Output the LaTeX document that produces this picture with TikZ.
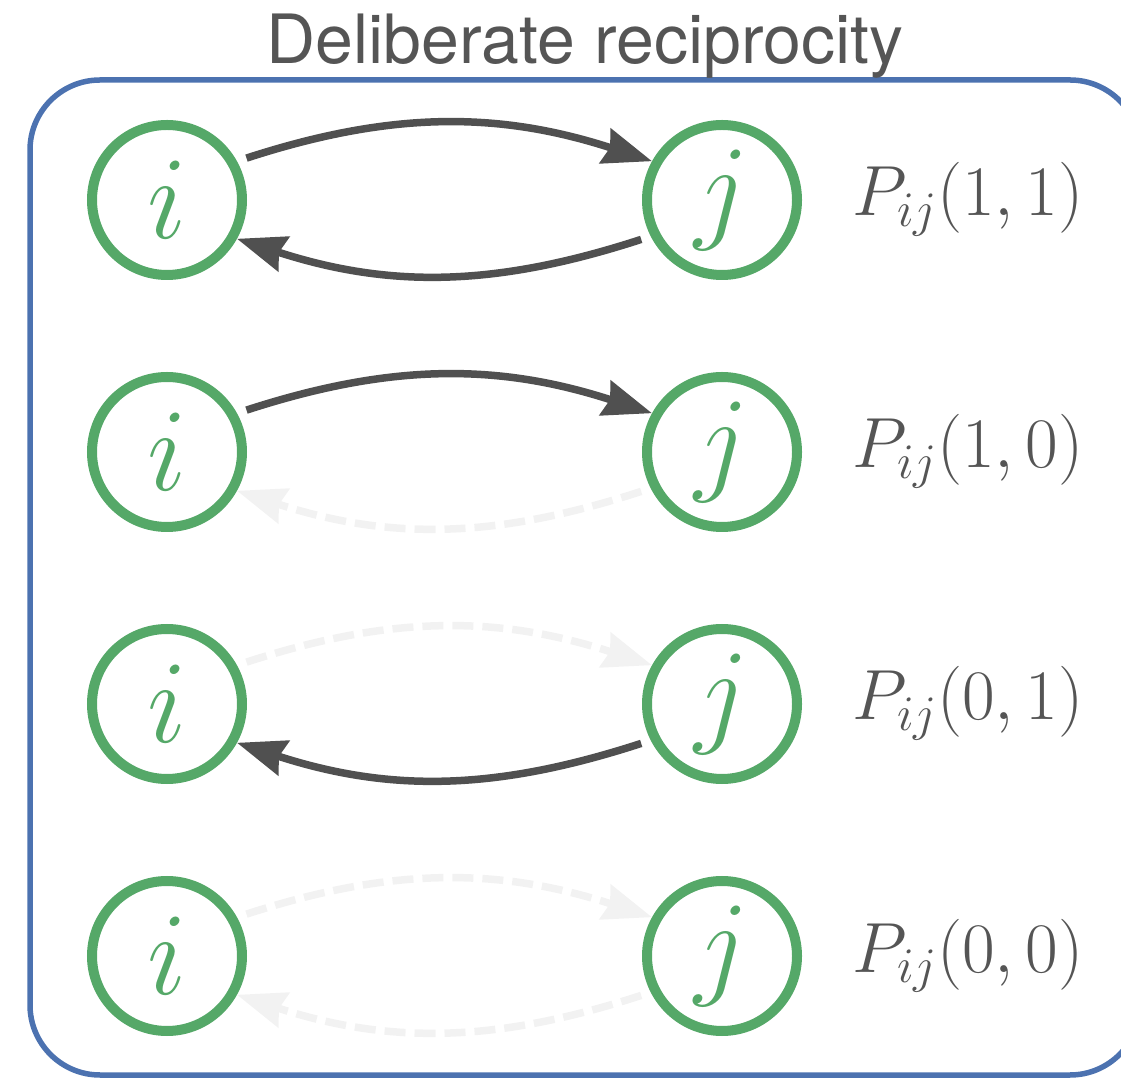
\RequirePackage{fix-cm}
\documentclass[tikz,border=0pt]{standalone}
\usepackage{fontspec}
\newfontfamily\titlefont{TeX Gyre Heros}
\usetikzlibrary{arrows.meta}
\definecolor{sgreen}{HTML}{55A868}
\definecolor{sblue}{HTML}{4C72B0}
\definecolor{darkarrow}{HTML}{505050}
\definecolor{lightarrow}{HTML}{F2F2F2}
\definecolor{textgray}{HTML}{555555}
\begin{document}
\begin{tikzpicture}[x=1pt,y=1pt,
  vertex/.style={circle, draw=sgreen, line width=10pt, minimum size=150pt, inner sep=0pt,
    text=sgreen, font=\fontsize{118}{118}\selectfont},
  probtext/.style={anchor=base west, inner sep=0pt, text=textgray, font=\fontsize{71}{71}\selectfont},
  tip/.style={-{Stealth[length=49pt,width=36pt,inset=5pt]}},
  linkon/.style={draw=darkarrow, line width=7.5pt, tip, shorten <=10pt},
  linkoff/.style={draw=lightarrow, line width=7.5pt, dash pattern=on 21pt off 9pt, tip, shorten <=10pt}
]
\useasboundingbox (0,0) rectangle (1121,1079);
\draw[sblue, line width=5.5pt, rounded corners=70pt] (30,4) rectangle (1140,999);
\node[anchor=base, inner sep=0pt, text=textgray, font=\titlefont\fontsize{68}{68}\selectfont] (title) at (585,1015) {Deliberate reciprocity};
\foreach \r/\y/\a/\b/\lab in {1/879/linkon/linkon/{1,1}, 2/627/linkon/linkoff/{1,0}, 3/375/linkoff/linkon/{0,1}, 4/123/linkoff/linkoff/{0,0}}{
  \node[vertex] (i\r) at (167,\y) {$i$};
  \node[vertex] (j\r) at (722,\y) {$j$};
  \node[probtext] (p\r) at (852,\y-16) {$P_{ij}(\lab)$};
  \draw[\a] (i\r.29) to[out=18,in=162] (j\r.151);
  \draw[\b] (j\r.207) to[out=198,in=-18] (i\r.331);
}
\end{tikzpicture}
\end{document}
